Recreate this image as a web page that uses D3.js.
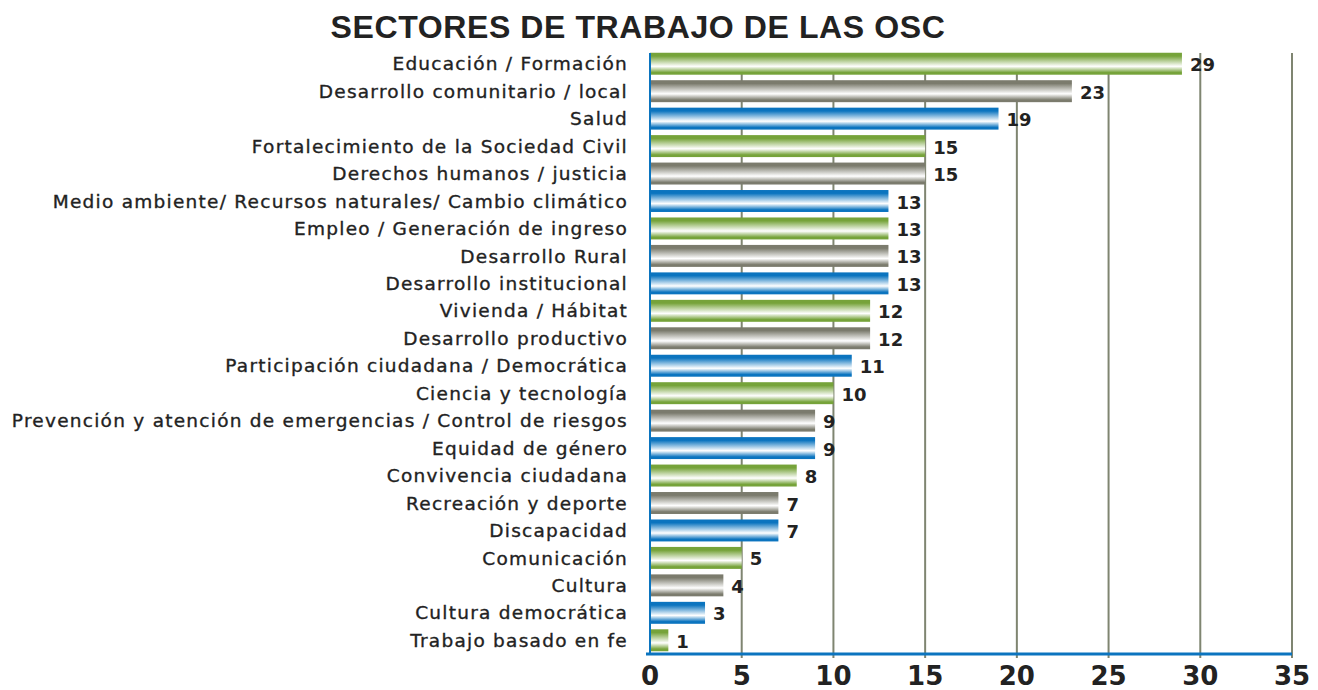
<!DOCTYPE html>
<html>
<head>
<meta charset="utf-8">
<script src="https://cdn.jsdelivr.net/npm/d3@7"></script>
<style>
  body { margin: 0; background: #fff; }
</style>
</head>
<body>
<div id="chart"></div>
<script>
const sectors = [
  "Educación / Formación",
  "Desarrollo comunitario / local",
  "Salud",
  "Fortalecimiento de la Sociedad Civil",
  "Derechos humanos / justicia",
  "Medio ambiente/ Recursos naturales/ Cambio climático",
  "Empleo / Generación de ingreso",
  "Desarrollo Rural",
  "Desarrollo institucional",
  "Vivienda / Hábitat",
  "Desarrollo productivo",
  "Participación ciudadana / Democrática",
  "Ciencia y tecnología",
  "Prevención y atención de emergencias / Control de riesgos",
  "Equidad de género",
  "Convivencia ciudadana",
  "Recreación y deporte",
  "Discapacidad",
  "Comunicación",
  "Cultura",
  "Cultura democrática",
  "Trabajo basado en fe"
];
const counts = [29, 23, 19, 15, 15, 13, 13, 13, 13, 12, 12, 11, 10, 9, 9, 8, 7, 7, 5, 4, 3, 1];
const xTicks = [0, 5, 10, 15, 20, 25, 30, 35];
const palette = ["green", "gray", "blue"];

const width = 1318;
const height = 690;
const margin = { top: 50, right: 26, bottom: 36, left: 650 };

const data = sectors.map((s, i) => ({ sector: s, value: counts[i], tone: palette[i % 3] }));

const svg = d3.select("#chart").append("svg")
  .attr("width", width)
  .attr("height", height)
  .style("font-family", "'DejaVu Sans', sans-serif");

const defs = svg.append("defs");
const tones = { green: "#76a33a", gray: "#7b7b6d", blue: "#0b74bf" };
for (const [key, c] of Object.entries(tones)) {
  const g = defs.append("linearGradient")
    .attr("id", "grad-" + key)
    .attr("x1", 0).attr("y1", 0).attr("x2", 0).attr("y2", 1);
  g.append("stop").attr("offset", "0%").attr("stop-color", c);
  g.append("stop").attr("offset", "15%").attr("stop-color", c);
  g.append("stop").attr("offset", "62%").attr("stop-color", "#ffffff");
  g.append("stop").attr("offset", "90%").attr("stop-color", c);
  g.append("stop").attr("offset", "100%").attr("stop-color", c);
}

const x = d3.scaleLinear().domain([0, 35]).range([margin.left, width - margin.right]);
const y = d3.scaleBand()
  .domain(sectors)
  .range([margin.top, height - margin.bottom])
  .paddingInner(0.2)
  .paddingOuter(0.1);

// title
svg.append("text")
  .attr("x", 638)
  .attr("y", 38)
  .attr("text-anchor", "middle")
  .attr("font-family", "'Liberation Sans', sans-serif")
  .attr("font-weight", "bold")
  .attr("font-size", 32)
  .attr("letter-spacing", 0.6)
  .attr("fill", "#222")
  .text("SECTORES DE TRABAJO DE LAS OSC");

// gridlines
svg.append("g")
  .selectAll("line")
  .data(xTicks.slice(1))
  .join("line")
  .attr("x1", d => x(d)).attr("x2", d => x(d))
  .attr("y1", margin.top + 3).attr("y2", height - margin.bottom + 4)
  .attr("stroke", "#7f8571")
  .attr("stroke-width", 2);

// bars
svg.append("g")
  .selectAll("rect")
  .data(data)
  .join("rect")
  .attr("x", x(0))
  .attr("y", d => y(d.sector))
  .attr("width", d => x(d.value) - x(0))
  .attr("height", y.bandwidth())
  .attr("fill", d => `url(#grad-${d.tone})`);

// axes lines
svg.append("line")
  .attr("x1", x(0)).attr("x2", x(0))
  .attr("y1", margin.top + 3).attr("y2", height - margin.bottom)
  .attr("stroke", "#0b74bf").attr("stroke-width", 2);
svg.append("line")
  .attr("x1", x(0) - 4).attr("x2", x(35))
  .attr("y1", height - margin.bottom).attr("y2", height - margin.bottom)
  .attr("stroke", "#0b74bf").attr("stroke-width", 3);

// category labels
svg.append("g")
  .selectAll("text")
  .data(data)
  .join("text")
  .attr("x", x(0) - 22)
  .attr("y", d => y(d.sector) + y.bandwidth() / 2)
  .attr("dy", "0.36em")
  .attr("text-anchor", "end")
  .attr("font-size", 18.5)
  .attr("letter-spacing", 1.25)
  .attr("fill", "#222")
  .attr("stroke", "#222")
  .attr("stroke-width", 0.35)
  .text(d => d.sector);

// value labels
svg.append("g")
  .selectAll("text")
  .data(data)
  .join("text")
  .attr("x", d => x(d.value) + 8)
  .attr("y", d => y(d.sector) + y.bandwidth() / 2)
  .attr("dy", "0.42em")
  .attr("font-size", 18)
  .attr("font-weight", "bold")
  .attr("fill", "#222")
  .text(d => d.value);

// tick labels
svg.append("g")
  .selectAll("text")
  .data(xTicks)
  .join("text")
  .attr("x", d => x(d))
  .attr("y", 685)
  .attr("text-anchor", "middle")
  .attr("font-size", 26)
  .attr("font-weight", "bold")
  .attr("fill", "#222")
  .text(d => d);
</script>
</body>
</html>
